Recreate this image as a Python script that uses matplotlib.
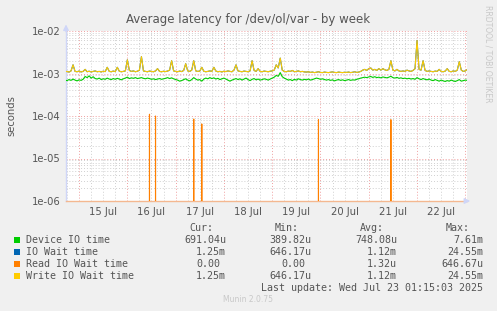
import numpy as np
import matplotlib
matplotlib.use("Agg")
import matplotlib.pyplot as plt
import matplotlib.dates as mdates
from matplotlib.patches import Rectangle

# hourly samples, 14 Jul 17:00 -> 23 Jul 01:00 (values in ms)
times = np.arange(np.datetime64("2025-07-14T17:00"), np.datetime64("2025-07-23T02:00"),
                  np.timedelta64(1, "h"))

device_io = [
    0.70, 0.68, 0.72, 0.69, 0.74, 0.70, 0.67, 0.71, 0.69, 0.73,
    0.85, 0.80, 0.88, 0.78, 0.84, 0.76, 0.74, 0.78, 0.72, 0.75,
    0.73, 0.78, 0.74, 0.72, 0.76, 0.73, 0.77, 0.74, 0.71, 0.75,
    0.78, 0.82, 0.76, 0.79, 0.77, 0.80, 0.76, 0.78, 0.80, 0.77,
    0.75, 0.78, 0.76, 0.73, 0.75, 0.72, 0.74, 0.76, 0.73, 0.75,
    0.77, 0.80, 0.76, 0.79, 0.75, 0.72, 0.70, 0.66, 0.68, 0.72,
    0.75, 0.70, 0.67, 0.72, 0.80, 0.74, 0.70, 0.72, 0.66, 0.74,
    0.78, 0.75, 0.80, 0.76, 0.79, 0.74, 0.77, 0.72, 0.75, 0.78,
    0.74, 0.70, 0.66, 0.70, 0.73, 0.76, 0.72, 0.75, 0.70, 0.74,
    0.78, 0.72, 0.68, 0.73, 0.76, 0.71, 0.74, 0.70, 0.72, 0.75,
    0.73, 0.70, 0.74, 0.78, 0.82, 0.90, 0.86, 1.05, 0.84, 0.78,
    0.74, 0.70, 0.72, 0.68, 0.73, 0.70, 0.75, 0.72, 0.70, 0.73,
    0.71, 0.74, 0.70, 0.72, 0.75, 0.78, 0.76, 0.73, 0.75, 0.72,
    0.70, 0.72, 0.69, 0.71, 0.67, 0.70, 0.72, 0.69, 0.71, 0.68,
    0.70, 0.72, 0.69, 0.71, 0.70, 0.73, 0.75, 0.78, 0.80, 0.82,
    0.80, 0.83, 0.85, 0.81, 0.84, 0.80, 0.82, 0.79, 0.83, 0.81,
    0.79, 0.82, 0.86, 0.80, 0.78, 0.81, 0.77, 0.79, 0.76, 0.78,
    0.75, 0.77, 0.74, 0.76, 0.73, 0.80, 0.75, 0.72, 0.76, 0.73,
    0.71, 0.74, 0.70, 0.68, 0.72, 0.69, 0.66, 0.70, 0.67, 0.65,
    0.68, 0.66, 0.70, 0.67, 0.65, 0.68, 0.72, 0.66, 0.68, 0.70,
    0.69,
]

write_wait = [
    1.10, 1.12, 1.08, 1.15, 1.60, 1.12, 1.10, 1.14, 1.09, 1.12,
    1.25, 1.10, 1.13, 1.09, 1.12, 1.15, 1.10, 1.12, 1.09, 1.13,
    1.11, 1.40, 1.12, 1.10, 1.14, 1.11, 1.40, 1.13, 1.10, 1.12,
    1.15, 2.10, 1.18, 1.12, 1.15, 1.10, 1.13, 1.20, 2.50, 1.15,
    1.12, 1.10, 1.14, 1.12, 1.10, 1.15, 1.30, 1.12, 1.10, 1.13,
    1.11, 1.14, 1.20, 2.00, 1.15, 1.12, 1.10, 1.14, 1.11, 1.18,
    1.70, 1.15, 1.12, 1.20, 2.00, 1.15, 1.12, 1.14, 1.40, 1.13,
    1.10, 1.12, 1.15, 1.12, 1.40, 1.14, 1.10, 1.12, 1.09, 1.13,
    1.11, 1.15, 1.12, 1.10, 1.20, 1.60, 1.15, 1.12, 1.10, 1.14,
    1.12, 1.10, 1.15, 2.00, 1.18, 1.12, 1.30, 1.12, 1.10, 1.14,
    1.12, 1.10, 1.13, 1.15, 1.20, 1.60, 1.35, 2.30, 1.20, 1.12,
    1.10, 1.14, 1.12, 1.18, 1.10, 1.12, 1.15, 1.10, 1.12, 1.09,
    1.08, 1.10, 1.06, 1.08, 1.05, 1.07, 1.10, 1.06, 1.05, 1.08,
    1.06, 1.05, 1.07, 1.09, 1.06, 1.05, 1.08, 1.06, 1.05, 1.07,
    1.06, 1.08, 1.05, 1.07, 1.10, 1.06, 1.08, 1.12, 1.20, 1.25,
    1.18, 1.30, 1.35, 1.20, 1.25, 1.18, 1.30, 1.20, 1.30, 1.22,
    1.18, 1.25, 2.00, 1.20, 1.15, 1.25, 1.15, 1.12, 1.15, 1.12,
    1.20, 1.15, 1.12, 1.18, 1.30, 6.00, 1.25, 1.20, 2.00, 1.18,
    1.12, 1.15, 1.12, 1.10, 1.14, 1.12, 1.25, 1.12, 1.10, 1.14,
    1.30, 1.12, 1.10, 1.15, 1.12, 1.20, 1.90, 1.20, 1.12, 1.15,
    1.25,
]

# IO wait is identical to write wait (same legend figures)
io_wait = list(write_wait)

read_wait = [
    0, 0, 0, 0, 0, 0, 0, 0, 0, 0,
    0, 0, 0, 0, 0, 0, 0, 0, 0, 0,
    0, 0, 0, 0, 0, 0, 0, 0, 0, 0,
    0, 0, 0, 0, 0, 0, 0, 0, 0, 0,
    0, 0, 0.11, 0, 0, 0.10, 0, 0, 0, 0,
    0, 0, 0, 0, 0, 0, 0, 0, 0, 0,
    0, 0, 0, 0, 0.085, 0, 0, 0, 0.065, 0,
    0, 0, 0, 0, 0, 0, 0, 0, 0, 0,
    0, 0, 0, 0, 0, 0, 0, 0, 0, 0,
    0, 0, 0, 0, 0, 0, 0, 0, 0, 0,
    0, 0, 0, 0, 0, 0, 0, 0, 0, 0,
    0, 0, 0, 0, 0, 0, 0, 0, 0, 0,
    0, 0, 0, 0, 0, 0, 0.082, 0, 0, 0,
    0, 0, 0, 0, 0, 0, 0, 0, 0, 0,
    0, 0, 0, 0, 0, 0, 0, 0, 0, 0,
    0, 0, 0, 0, 0, 0, 0, 0, 0, 0,
    0, 0, 0.082, 0, 0, 0, 0, 0, 0, 0,
    0, 0, 0, 0, 0, 0, 0, 0, 0, 0,
    0, 0, 0, 0, 0, 0, 0, 0, 0, 0,
    0, 0, 0, 0, 0, 0, 0, 0, 0, 0,
    0,
]

series_names = ["Device IO time", "IO Wait time", "Read IO Wait time", "Write IO Wait time"]
series_colors = ["#00cc00", "#0066b3", "#ff8000", "#ffcc00"]
cur_vals = ["691.04u", "1.25m", "0.00", "1.25m"]
min_vals = ["389.82u", "646.17u", "0.00", "646.17u"]
avg_vals = ["748.08u", "1.12m", "1.32u", "1.12m"]
max_vals = ["7.61m", "24.55m", "646.67u", "24.55m"]

W, H = 497, 311
fig = plt.figure(figsize=(W / 100, H / 100), dpi=100, facecolor="#f0f0f0")
ax = fig.add_axes([66 / W, 1 - 201 / H, 401 / W, 170 / H], facecolor="white")

def px(x, y):
    return x / W, 1 - y / H

ms = 1e-3
for vals, col in zip([device_io, io_wait, read_wait, write_wait], series_colors):
    ax.plot(times, np.array(vals) * ms, color=col, lw=0.8, zorder=3)

ax.set_yscale("log", nonpositive="clip")
ax.set_ylim(1e-6, 1e-2)
ax.set_xlim(np.datetime64("2025-07-14T17:30"), np.datetime64("2025-07-23T00:50"))

# y grid
ax.yaxis.set_major_locator(matplotlib.ticker.LogLocator(base=10, numticks=10))
ax.yaxis.set_minor_locator(matplotlib.ticker.LogLocator(base=10, subs=np.arange(2, 10), numticks=20))
ax.yaxis.set_major_formatter(matplotlib.ticker.FuncFormatter(lambda v, p: "%.0e" % v))
ax.yaxis.set_minor_formatter(matplotlib.ticker.NullFormatter())

# x grid: red at midnight, grey every 6 h, labels at noon
ax.xaxis.set_major_locator(mdates.DayLocator())
ax.xaxis.set_major_formatter(matplotlib.ticker.NullFormatter())
ax.xaxis.set_minor_locator(mdates.HourLocator(byhour=[6, 12, 18]))
ax.xaxis.set_minor_formatter(matplotlib.ticker.FuncFormatter(
    lambda v, p: mdates.num2date(v).strftime("%d %b") if mdates.num2date(v).hour == 12 else ""))

ax.grid(which="major", color="#f0a0a0", ls=(0, (1, 2)), lw=0.7, zorder=1)
ax.grid(which="minor", color="#d0d0d0", ls=(0, (1, 2)), lw=0.7, zorder=1)

ax.tick_params(axis="both", which="both", length=0, colors="#555555", labelsize=7.2)
ax.tick_params(axis="x", which="minor", pad=4)
ax.tick_params(axis="y", which="major", pad=4)

for s in ["top", "right"]:
    ax.spines[s].set_visible(False)
ax.spines["left"].set_color("#cfd6f8")
ax.spines["bottom"].set_color("#f4b890")
ax.spines["left"].set_linewidth(1)
ax.spines["bottom"].set_linewidth(1)

# axis arrows
ax.annotate("", xy=(0, 1.055), xytext=(0, 0.98), xycoords="axes fraction",
            arrowprops=dict(arrowstyle="-|>", color="#cfd6f8", lw=1, mutation_scale=8),
            annotation_clip=False)
ax.annotate("", xy=(1.015, 0), xytext=(0.99, 0), xycoords="axes fraction",
            arrowprops=dict(arrowstyle="-|>", color="#cfd6f8", lw=1, mutation_scale=8),
            annotation_clip=False)

ax.set_ylabel("seconds", color="#555555", fontsize=7.2, labelpad=11)

fig.text(*px(248, 19), "Average latency for /dev/ol/var - by week", ha="center", va="center",
         color="#555555", fontsize=8.5)
fig.text(*px(488, 5), "RRDTOOL / TOBI OETIKER", ha="center", va="top", rotation=270,
         color="#c8c8c8", fontsize=5.5)

# legend
mono = dict(family="DejaVu Sans Mono", fontsize=7.2, color="#555555", va="center")
for hx, htxt in zip([213, 299, 384, 470], ["Cur:", "Min:", "Avg:", "Max:"]):
    fig.text(*px(hx, 228), htxt, ha="right", **mono)

cols_right = [226, 311, 397, 483]
for i, name in enumerate(series_names):
    y = 240 + i * 11.9
    fig.patches.append(Rectangle(px(14, y + 3), 6 / W, 6 / H, transform=fig.transFigure,
                                 facecolor=series_colors[i], edgecolor="none"))
    fig.text(*px(26, y), name, ha="left", **mono)
    for xr, col in zip(cols_right, [cur_vals, min_vals, avg_vals, max_vals]):
        txt = col[i]
        xx = xr if txt[-1] in "um" else xr - 6
        fig.text(*px(xx, y), txt, ha="right", **mono)

fig.text(*px(483, 288), "Last update: Wed Jul 23 01:15:03 2025", ha="right", **mono)
fig.text(*px(248, 300), "Munin 2.0.75", ha="center", va="center", color="#c8c8c8", fontsize=5.5)

fig.savefig("out.png", dpi=100, facecolor=fig.get_facecolor())
